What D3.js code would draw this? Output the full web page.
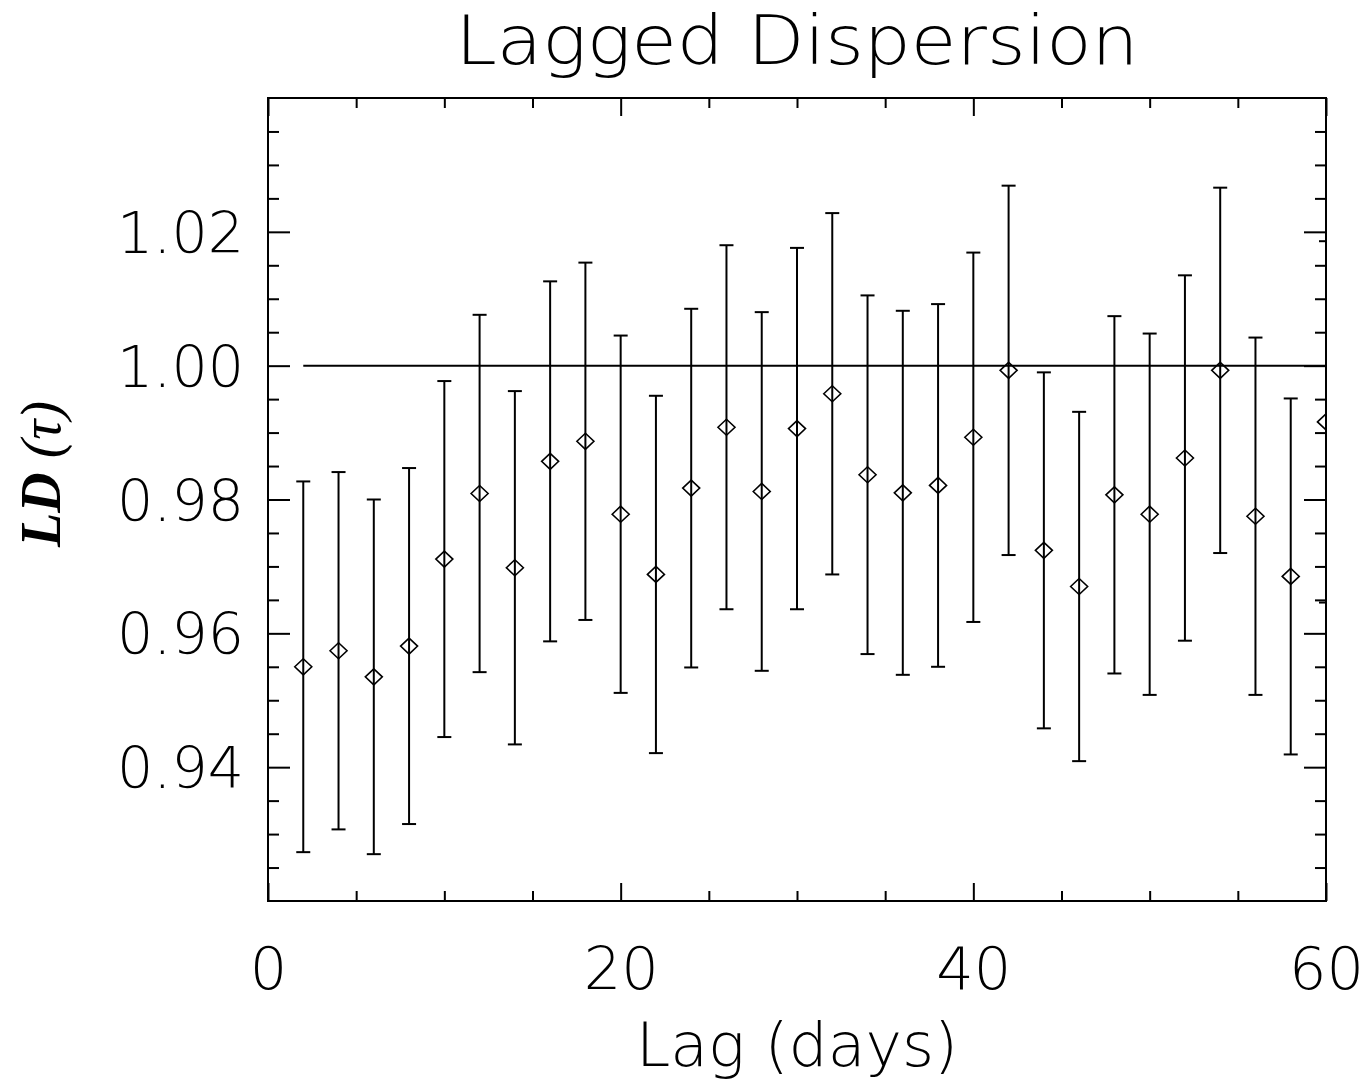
<!DOCTYPE html>
<html>
<head>
<meta charset="utf-8">
<script src="https://cdn.jsdelivr.net/npm/d3@7"></script>
<style>
  body { margin: 0; background: #fff; }
  svg { display: block; }
</style>
</head>
<body>
<div id="chart"></div>
<script>
// Lag values (days)
const lags = [2, 4, 6, 8, 10, 12, 14, 16, 18, 20, 22, 24, 26, 28, 30,
              32, 34, 36, 38, 40, 42, 44, 46, 48, 50, 52, 54, 56, 58, 60];
// LD(tau) values
const ldValues = [0.9550, 0.9574, 0.9535, 0.9581, 0.9711, 0.9809, 0.9698, 0.9857, 0.9887, 0.9778,
                  0.9688, 0.9817, 0.9908, 0.9812, 0.9906, 0.9958, 0.9837, 0.9810, 0.9821, 0.9893,
                  0.9993, 0.9724, 0.9670, 0.9807, 0.9778, 0.9862, 0.9993, 0.9775, 0.9685, 0.9916];
// symmetric error bar half-lengths
const ldErrors = [0.0277, 0.0267, 0.0265, 0.0266, 0.0266, 0.0267, 0.0264, 0.0269, 0.0267, 0.0267,
                  0.0267, 0.0268, 0.0272, 0.0268, 0.0270, 0.0270, 0.0268, 0.0272, 0.0271, 0.0276,
                  0.0276, 0.0266, 0.0261, 0.0267, 0.0270, 0.0273, 0.0273, 0.0267, 0.0266, 0.0270];

const xMajorTicks = [0, 20, 40, 60];
const xMinorTicks = [5, 10, 15, 25, 30, 35, 45, 50, 55];
const yMajorTicks = [0.94, 0.96, 0.98, 1.00, 1.02];
const yMinorTicks = d3.range(0.925, 1.0351, 0.005).filter(v => !yMajorTicks.some(m => Math.abs(m - v) < 1e-6));
const refLevel = 1.0;

const width = 1364, height = 1083;
const plot = { left: 268, right: 1326, top: 98, bottom: 901 };
const lineColor = "#000";
const thinFont = "'DejaVu Sans', sans-serif";

const data = lags.map((lag, i) => ({ lag, v: ldValues[i], e: ldErrors[i] }));

const svg = d3.select("#chart").append("svg")
    .attr("width", width)
    .attr("height", height);

const x = d3.scaleLinear().domain([0, 60]).range([plot.left, plot.right]);
const y = d3.scaleLinear().domain([0.92, 1.04]).range([plot.bottom, plot.top]);

svg.append("defs").append("clipPath").attr("id", "plotClip")
    .append("rect")
    .attr("x", plot.left).attr("y", plot.top)
    .attr("width", plot.right - plot.left).attr("height", plot.bottom - plot.top);

// axes: ticks point inward, on all four sides
function styleAxis(g) {
    g.select(".domain").remove();
    g.selectAll(".tick line").attr("stroke", lineColor).attr("stroke-width", 2);
    g.selectAll("text")
        .attr("font-family", thinFont)
        .attr("font-weight", 200)
        .attr("fill", "#000");
}

svg.append("g").attr("transform", `translate(${plot.left},0)`)
    .call(d3.axisLeft(y).tickValues(yMinorTicks).tickSize(-11).tickFormat(""))
    .call(styleAxis);
svg.append("g").attr("transform", `translate(${plot.left},0)`)
    .call(d3.axisLeft(y).tickValues(yMajorTicks).tickSize(-22).tickPadding(24).tickFormat(d3.format(".2f")))
    .call(styleAxis)
    .call(g => g.selectAll("text").attr("font-size", 57).attr("dy", "0.36em")
        .attr("textLength", 127).attr("lengthAdjust", "spacingAndGlyphs"));

svg.append("g").attr("transform", `translate(${plot.right},0)`)
    .call(d3.axisRight(y).tickValues(yMinorTicks).tickSize(-11).tickFormat(""))
    .call(styleAxis);
svg.append("g").attr("transform", `translate(${plot.right},0)`)
    .call(d3.axisRight(y).tickValues(yMajorTicks).tickSize(-22).tickFormat(""))
    .call(styleAxis);

svg.append("g").attr("transform", `translate(0,${plot.bottom})`)
    .call(d3.axisBottom(x).tickValues(xMinorTicks).tickSize(-10).tickFormat(""))
    .call(styleAxis);
svg.append("g").attr("transform", `translate(0,${plot.bottom})`)
    .call(d3.axisBottom(x).tickValues(xMajorTicks).tickSize(-18).tickPadding(88).tickFormat(d3.format("d")))
    .call(styleAxis)
    .call(g => g.selectAll("text").attr("font-size", 59).attr("dy", 0));

svg.append("g").attr("transform", `translate(0,${plot.top})`)
    .call(d3.axisTop(x).tickValues(xMinorTicks).tickSize(-10).tickFormat(""))
    .call(styleAxis);
svg.append("g").attr("transform", `translate(0,${plot.top})`)
    .call(d3.axisTop(x).tickValues(xMajorTicks).tickSize(-18).tickFormat(""))
    .call(styleAxis);

// frame
svg.append("rect")
    .attr("x", plot.left).attr("y", plot.top)
    .attr("width", plot.right - plot.left).attr("height", plot.bottom - plot.top)
    .attr("fill", "none").attr("stroke", lineColor).attr("stroke-width", 2);

const inner = svg.append("g").attr("clip-path", "url(#plotClip)");

// reference line at 1.00, from the first lag to the last
inner.append("line")
    .attr("x1", x(d3.min(lags))).attr("x2", x(d3.max(lags)))
    .attr("y1", y(refLevel)).attr("y2", y(refLevel))
    .attr("stroke", lineColor).attr("stroke-width", 2);

// error bars
const capHalf = 7;
const bars = inner.selectAll(".err").data(data).join("g").attr("class", "err")
    .attr("stroke", lineColor).attr("stroke-width", 2);
bars.append("line")
    .attr("x1", d => x(d.lag)).attr("x2", d => x(d.lag))
    .attr("y1", d => y(d.v + d.e)).attr("y2", d => y(d.v - d.e));
bars.append("line")
    .attr("x1", d => x(d.lag) - capHalf).attr("x2", d => x(d.lag) + capHalf)
    .attr("y1", d => y(d.v + d.e)).attr("y2", d => y(d.v + d.e));
bars.append("line")
    .attr("x1", d => x(d.lag) - capHalf).attr("x2", d => x(d.lag) + capHalf)
    .attr("y1", d => y(d.v - d.e)).attr("y2", d => y(d.v - d.e));

// diamonds
const dw = 8.5, dh = 8;
inner.selectAll(".pt").data(data).join("path").attr("class", "pt")
    .attr("d", d => {
        const cx = x(d.lag), cy = y(d.v);
        return `M${cx - dw},${cy}L${cx},${cy - dh}L${cx + dw},${cy}L${cx},${cy + dh}Z`;
    })
    .attr("fill", "none").attr("stroke", lineColor).attr("stroke-width", 1.6);

// title and axis labels
svg.append("text")
    .attr("x", (plot.left + plot.right) / 2).attr("y", 64)
    .attr("text-anchor", "middle")
    .attr("font-family", thinFont).attr("font-weight", 200).attr("font-size", 68)
    .attr("textLength", 683).attr("lengthAdjust", "spacingAndGlyphs")
    .text("Lagged Dispersion");

svg.append("text")
    .attr("x", (plot.left + plot.right) / 2).attr("y", 1066)
    .attr("text-anchor", "middle")
    .attr("font-family", thinFont).attr("font-weight", 200).attr("font-size", 60)
    .attr("textLength", 322).attr("lengthAdjust", "spacingAndGlyphs")
    .text("Lag (days)");

const yLabel = svg.append("text")
    .attr("transform", "translate(60,474) rotate(-90)")
    .attr("text-anchor", "middle")
    .attr("font-family", "'Liberation Serif', 'DejaVu Serif', serif")
    .attr("font-style", "italic")
    .attr("font-size", 56);
yLabel.append("tspan").attr("font-weight", "bold").text("LD");
yLabel.append("tspan").text(" (τ)");
</script>
</body>
</html>
